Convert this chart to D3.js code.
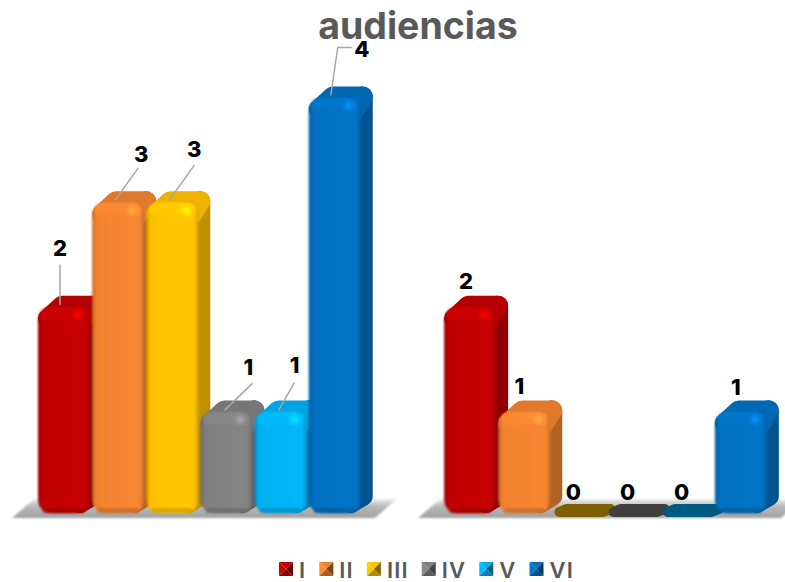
<!DOCTYPE html>
<html>
<head>
<meta charset="utf-8">
<script src="https://cdn.jsdelivr.net/npm/d3@7"></script>
<style>
	html, body { margin: 0; padding: 0; background: #fff; }
	text { font-family: Inter, "Noto Sans", sans-serif; }
</style>
</head>
<body>
<svg id="chart" width="785" height="582"></svg>
<script>
const TITLE = 'audiencias';
const GROUPS = ['a', 'b'];
const SERIES = ['I', 'II', 'III', 'IV', 'V', 'VI'];
const VALUES_A = [2, 3, 3, 1, 1, 4];
const VALUES_B = [2, 1, 0, 0, 0, 1];
const COLORS = ['#c00000', '#f0822f', '#ffc000', '#7f7f7f', '#00b0f0', '#0070c0'];
const ZERO_COLORS = ['#7f2a00', '#84501f', '#7f6000', '#404040', '#005a7f', '#003a66'];

// manual label placement, offset from the top of the bar: [group][series] = [dx, dy]
const LABEL_OFFSETS_A = [[22, -51], [49, -40], [48, -45], [48, -36], [40, -38], [53, -41]];
const LABEL_OFFSETS_B = [[22, -18], [21, -17], [21, -13], [21, -13], [21, -13], [21, -16]];

const DEPTH_X = 12;
const DEPTH_Y = 11;
const FRONT_W = 52;
const BASE_Y = 513;

const svg = d3.select('#chart');
const defs = svg.append('defs');

const x0 = d3.scaleBand().domain(GROUPS).range([38, 769]).paddingInner(0.2);
const x1 = d3.scaleBand().domain(SERIES).range([0, x0.bandwidth()]);
const y = d3.scaleLinear().domain([0, 4]).range([516, 97.5]);

const blur = (id, dev) => defs.append('filter').attr('id', id)
	.attr('x', '-30%').attr('y', '-30%').attr('width', '160%').attr('height', '160%')
	.append('feGaussianBlur').attr('stdDeviation', dev);
blur('soft05', 0.9);
blur('soft1', 1.2);
blur('soft2', 2);

/* one horizontal gradient per series for the front face */
COLORS.forEach((c, i) => {
	const base = d3.color(c);
	const g = defs.append('linearGradient').attr('id', 'front' + i);
	[[0, base.darker(0.6)], [0.08, base], [0.8, base.brighter(0.1)], [0.92, base.brighter(0.06)], [1, base.darker(0.5)]]
		.forEach(s => g.append('stop').attr('offset', s[0]).attr('stop-color', s[1]));
	const t = defs.append('linearGradient').attr('id', 'bevel' + i).attr('x2', 0).attr('y2', 1);
	[[0, base.brighter(0.2), 0.8], [0.7, base.brighter(0.2), 0.5], [1, base, 0]]
		.forEach(s => t.append('stop').attr('offset', s[0]).attr('stop-color', s[1]).attr('stop-opacity', s[2]));
});

const floorGrad = defs.append('linearGradient').attr('id', 'floor').attr('x2', 0).attr('y2', 1);
floorGrad.append('stop').attr('offset', 0).attr('stop-color', '#eee');
floorGrad.append('stop').attr('offset', 0.4).attr('stop-color', '#b8b8b8');
floorGrad.append('stop').attr('offset', 1).attr('stop-color', '#a0a0a0');

/* floor shadow under each group */
const line = d3.line();
GROUPS.forEach(g => {
	const left = x0(g);
	svg.append('path')
		.attr('d', line([[left - 26, 518], [left - 4, 499], [left + x0.bandwidth() + 34, 499], [left + x0.bandwidth() + 12, 518]]) + 'Z')
		.attr('fill', 'url(#floor)')
		.attr('filter', 'url(#soft1)');
});

function roundedBox(x, top, w, bottom, r) {
	const p = d3.path();
	p.moveTo(x + r, top);
	p.lineTo(x + w - r, top);
	p.quadraticCurveTo(x + w, top, x + w, top + r);
	p.lineTo(x + w, bottom - r);
	p.quadraticCurveTo(x + w, bottom, x + w - r, bottom);
	p.lineTo(x + r, bottom);
	p.quadraticCurveTo(x, bottom, x, bottom - r);
	p.lineTo(x, top + r);
	p.quadraticCurveTo(x, top, x + r, top);
	p.closePath();
	return p.toString();
}

function drawBar(group, g, s, v) {
	const i = SERIES.indexOf(s);
	const x = x0(g) + x1(s);
	if (v === 0) {
		// flat bars lie on the floor as a rounded sliver
		group.append('path')
			.attr('d', line([[x + 7, BASE_Y - 1], [x + 14, BASE_Y - 4], [x + 58, BASE_Y - 4], [x + 50, BASE_Y - 1]]) + 'Z')
			.attr('fill', ZERO_COLORS[i])
			.attr('stroke', ZERO_COLORS[i])
			.attr('stroke-width', 10)
			.attr('stroke-linejoin', 'round');
		return;
	}
	const top = y(v);
	const base = d3.color(COLORS[i]);
	const r = 15;
	const inset = 10;
	// side face, thick round stroke gives the soft silhouette
	group.append('path')
		.attr('d', line([
			[x + FRONT_W - 8, top + 4],
			[x + FRONT_W + DEPTH_X - inset, top - DEPTH_Y + inset],
			[x + FRONT_W + DEPTH_X - inset, BASE_Y - DEPTH_Y - 6],
			[x + FRONT_W - 10, BASE_Y - inset]
		]) + 'Z')
		.attr('fill', base.darker(0.8))
		.attr('stroke', base.darker(0.8))
		.attr('stroke-width', inset * 2)
		.attr('stroke-linejoin', 'round');
	// top face
	group.append('path')
		.attr('d', line([
			[x + inset, top + inset + 2],
			[x + DEPTH_X + inset + 2, top - DEPTH_Y + inset],
			[x + FRONT_W + DEPTH_X - inset, top - DEPTH_Y + inset],
			[x + FRONT_W - 6, top + 12]
		]) + 'Z')
		.attr('fill', base.darker(0.2))
		.attr('stroke', base.darker(0.2))
		.attr('stroke-width', inset * 2)
		.attr('stroke-linejoin', 'round');
	// front face
	group.append('path')
		.attr('d', roundedBox(x, top, FRONT_W, BASE_Y, r))
		.attr('fill', `url(#front${i})`)
		.attr('filter', 'url(#soft05)');
	// top bevel, bottom edge and the small highlight
	group.append('path')
		.attr('d', roundedBox(x + 3, top + 1, FRONT_W - 6, top + 17, 8))
		.attr('fill', `url(#bevel${i})`);
	group.append('path')
		.attr('d', roundedBox(x + 5, BASE_Y - 5, FRONT_W - 10, BASE_Y, 3))
		.attr('fill', base.darker(0.6))
		.attr('opacity', 0.7)
		.attr('filter', 'url(#soft1)');
	group.append('circle')
		.attr('cx', x + FRONT_W - 12)
		.attr('cy', top + 8)
		.attr('r', 4)
		.attr('fill', base.brighter(0.8))
		.attr('filter', 'url(#soft2)');
}

const DATA = [VALUES_A, VALUES_B];
const OFFSETS = [LABEL_OFFSETS_A, LABEL_OFFSETS_B];

GROUPS.forEach((g, gi) => {
	const group = svg.append('g').attr('class', 'group-' + g);
	SERIES.forEach((s, i) => drawBar(group, g, s, DATA[gi][i]));
});

/* leader lines only where a label was moved away from its bar */
const LEADERS_A = [
	[[22, -2], [22, -42]],
	[[23, -2], [46, -34]],
	[[23, -2], [48, -37]],
	[[24, -1], [52, -28]],
	[[24, -1], [40, -29]],
	[[22, -2], [29, -50], [43, -50]]
];
LEADERS_A.forEach((pts, i) => {
	const x = x0('a') + x1(SERIES[i]);
	const top = y(VALUES_A[i]);
	svg.append('path')
		.attr('d', line(pts.map(p => [x + p[0], top + p[1]])))
		.attr('fill', 'none')
		.attr('stroke', '#a6a6a6')
		.attr('stroke-width', 1.5);
});

/* data labels */
GROUPS.forEach((g, gi) => {
	SERIES.forEach((s, i) => {
		const v = DATA[gi][i];
		const off = OFFSETS[gi][i];
		svg.append('text')
			.attr('x', x0(g) + x1(s) + off[0])
			.attr('y', Math.min(y(v), BASE_Y) + off[1])
			.attr('text-anchor', 'middle')
			.attr('font-size', 22)
			.attr('font-weight', 800)
			.attr('fill', '#000')
			.text(v);
	});
});

/* title */
svg.append('text')
	.attr('x', 418)
	.attr('y', 39)
	.attr('text-anchor', 'middle')
	.attr('font-size', 37.5)
	.attr('font-weight', 700)
	.attr('fill', '#595959')
	.text(TITLE);

/* legend, pyramid shaded swatches */
let legendX = 279;
const legendY = 562;
const SW = 14;
SERIES.forEach((s, i) => {
	const base = d3.color(COLORS[i]);
	const l = svg.append('g').attr('transform', `translate(${legendX},${legendY})`);
	const c = [SW / 2, SW / 2];
	const corners = [[0, 0], [SW, 0], [SW, SW], [0, SW]];
	const shades = [base, base.darker(1.8), base.darker(0.9), base.brighter(0.2)];
	[[0, 1], [1, 2], [2, 3], [3, 0]].forEach((e, k) => {
		l.append('path')
			.attr('d', line([corners[e[0]], corners[e[1]], c]) + 'Z')
			.attr('fill', shades[k]);
	});
	const t = l.append('text')
		.attr('x', SW + 6)
		.attr('y', SW + 1.5)
		.attr('font-size', 22)
		.attr('font-weight', 600)
		.attr('letter-spacing', 1.2)
		.attr('fill', '#595959')
		.text(s);
	legendX += SW + 6 + t.node().getComputedTextLength() + 13;
});
</script>
</body>
</html>
